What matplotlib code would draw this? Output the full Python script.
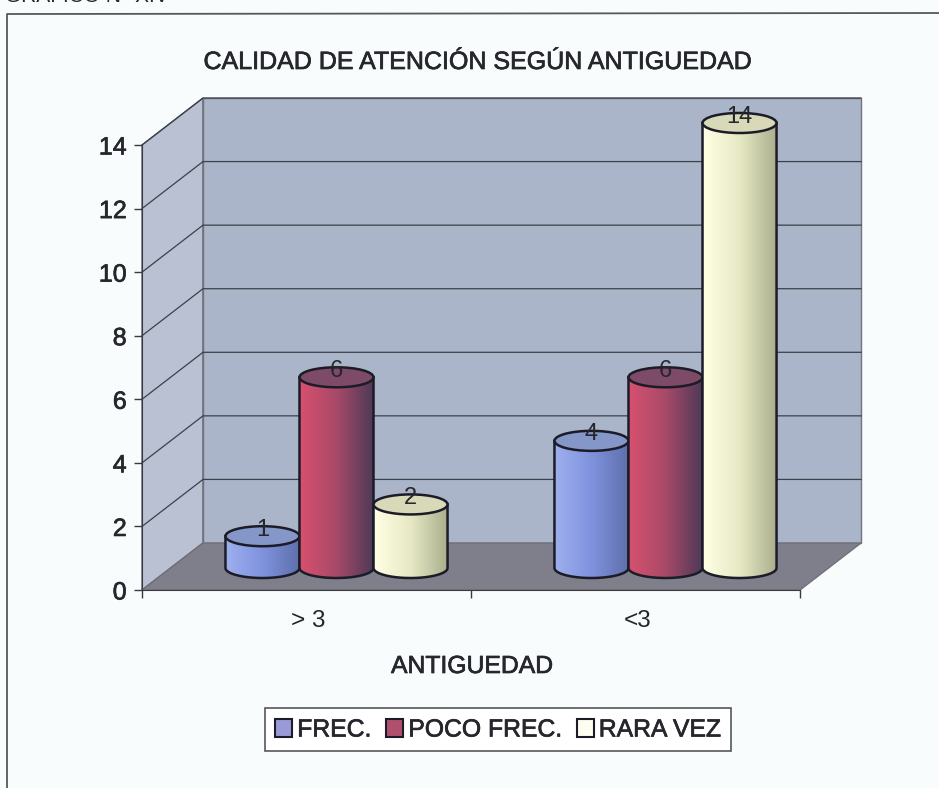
import numpy as np
import matplotlib
matplotlib.use('Agg')
import matplotlib.pyplot as plt
import matplotlib.patheffects as pe
from matplotlib.colors import LinearSegmentedColormap
from matplotlib.patches import Ellipse, Patch, PathPatch, Polygon
from matplotlib.path import Path
from matplotlib.transforms import Affine2D

plt.rcParams['font.family'] = ['Liberation Sans', 'DejaVu Sans']

# --- DATA ---
categories = ['> 3', '<3']
series = ['FREC.', 'POCO FREC.', 'RARA VEZ']
frec = [1, 4]
poco_frec = [6, 6]
rara_vez = [2, 14]
y_ticks = [0, 2, 4, 6, 8, 10, 12, 14]

# --- STYLE ---
W, H = 939, 788
PAPER = '#f8fcfd'
INK = '#26262c'
LEFT, RIGHT, TOP, BOTTOM = 142, 800, 145, 590   # front plane in pixels
DEPTH_X, DEPTH_Y = 61, 47                       # wall depth in pixels
BAR_W = 0.225                                   # in category units
ELL_H = 0.63                                    # ellipse height in value units
HEAVY = [pe.withStroke(linewidth=0.5, foreground=INK)]  # scanned text looks thicker

grads = [['#9fb0ee', '#7f92de', '#5f70ac'],
         ['#d8506f', '#a84a68', '#4e3a58'],
         ['#ffffe4', '#e6e8c4', '#a9ad8a']]
tops = ['#8497c8', '#7d4a68', '#d8d9b8']
legend_colors = ['#9a9ad8', '#b0506e', '#fdfdf0']

fig = plt.figure(figsize=(W / 100, H / 100), dpi=100, facecolor=PAPER)
ax = fig.add_axes([LEFT / W, 1 - BOTTOM / H, (RIGHT - LEFT) / W, (BOTTOM - TOP) / H])
ax.set_xlim(0, 2)
ax.set_ylim(0, 14)
ax.patch.set_visible(False)

unit_x = (RIGHT - LEFT) / 2
unit_y = (BOTTOM - TOP) / 14
dx, dy = DEPTH_X / unit_x, DEPTH_Y / unit_y

# walls and floor, data coords with the depth added
ax.add_patch(Polygon([(0, 0), (dx, dy), (dx, 14 + dy), (0, 14)], fc='#b9c1d2', ec='#5c6068', lw=1, clip_on=False, zorder=1))
ax.add_patch(Polygon([(dx, dy), (2 + dx, dy), (2 + dx, 14 + dy), (dx, 14 + dy)], fc='#aab5ca', ec='#70747c', lw=1, clip_on=False, zorder=1))
ax.add_patch(Polygon([(0, 0), (2, 0), (2 + dx, dy), (dx, dy)], fc='#7f7f8b', ec='#70707a', lw=1, clip_on=False, zorder=2))
for v in y_ticks[1:]:
    ax.plot([0, dx, 2 + dx], [v, v + dy, v + dy], color='#3c4048', lw=0.9, clip_on=False, zorder=2)

# cylinders sit half way into the depth
to_screen = ax.transData + Affine2D().translate(30, 22)
t = np.linspace(np.pi, 2 * np.pi, 40)
for j, vals in enumerate([frec, poco_frec, rara_vez]):
    cmap = LinearSegmentedColormap.from_list('c%d' % j, grads[j])
    for i, v in enumerate(vals):
        cx = i + 0.5 + (j - 1) * BAR_W
        x0, x1 = cx - BAR_W / 2, cx + BAR_W / 2
        z = 5 + i * 10 + j
        arc_x = cx + BAR_W / 2 * np.cos(t)
        arc_y = ELL_H / 2 * np.sin(t)
        body = np.vstack([[[x0, v]], np.column_stack([arc_x, arc_y]), [[x1, v]], [[x0, v]]])
        path = Path(body, closed=True)
        ax.add_patch(PathPatch(path, fc='none', ec='#1c1c28', lw=1.8, transform=to_screen, clip_on=False, zorder=z + 0.2))
        im = ax.imshow(np.linspace(0, 1, 64).reshape(1, -1), cmap=cmap, aspect='auto',
                       extent=[x0, x1, -ELL_H, v], transform=to_screen, zorder=z)
        im.set_clip_box(fig.bbox)
        im.set_clip_path(PathPatch(path, transform=to_screen))
        ax.add_patch(Ellipse((cx, v), BAR_W, ELL_H, fc=tops[j], ec='#1c1c28', lw=1.8,
                             transform=to_screen, clip_on=False, zorder=z + 0.3))
        ax.text(cx, v + 0.2, str(v), ha='center', va='center', fontsize=17, color=INK,
                transform=to_screen, zorder=z + 0.4)

ax.set_xlim(0, 2)
ax.set_ylim(0, 14)

# axes
for s in ['top', 'right']:
    ax.spines[s].set_visible(False)
for s in ['left', 'bottom']:
    ax.spines[s].set_color('#3a3a40')
    ax.spines[s].set_zorder(3)
ax.set_yticks(y_ticks)
ax.set_xticks([0, 1, 2])
ax.set_xticklabels([])
ax.tick_params(axis='y', length=6, width=1, color='#3a3a40', labelsize=18, labelcolor=INK, pad=5)
ax.tick_params(axis='x', length=6, width=1, color='#3a3a40')
for lab in ax.get_yticklabels():
    lab.set_path_effects(HEAVY)
for i, c in enumerate(categories):
    ax.annotate(c, (i + 0.5, 0), xytext=(2, -31), textcoords='offset pixels', ha='center', va='center',
                fontsize=17.5, color=INK, annotation_clip=False)

# outer frame, title
fig.add_artist(plt.Line2D([7 / W, 7 / W, 1], [0, 1 - 14 / H, 1 - 13 / H], color='#55585c', lw=1.3))
fig.text(5 / W, 1 + 3 / H, 'GRÁFICO N° XIV', fontsize=15, color=INK, ha='left', va='center')
fig.text(477 / W, 1 - 62 / H, 'CALIDAD DE ATENCIÓN SEGÚN ANTIGUEDAD', fontsize=18, color=INK, ha='center', va='center', path_effects=HEAVY)
fig.text(472 / W, 1 - 666 / H, 'ANTIGUEDAD', fontsize=17.8, color=INK, ha='center', va='center', path_effects=HEAVY)

handles = [Patch(fc=legend_colors[k], ec='#1c1c28', lw=1.5, label=series[k]) for k in range(3)]
leg = fig.legend(handles=handles, ncol=3, loc='center', bbox_to_anchor=(498 / W, 1 - 729.5 / H), fontsize=17.8,
                 frameon=True, fancybox=False, edgecolor='#55585c', facecolor='white', framealpha=1,
                 handlelength=0.7, handleheight=0.7, handletextpad=0.2, columnspacing=0.6, borderpad=0.4,
                 borderaxespad=0)
leg.get_frame().set_linewidth(1.2)
for txt in leg.get_texts():
    txt.set_color(INK)
    txt.set_path_effects(HEAVY)

fig.savefig('out.png', dpi=100, facecolor=PAPER)
